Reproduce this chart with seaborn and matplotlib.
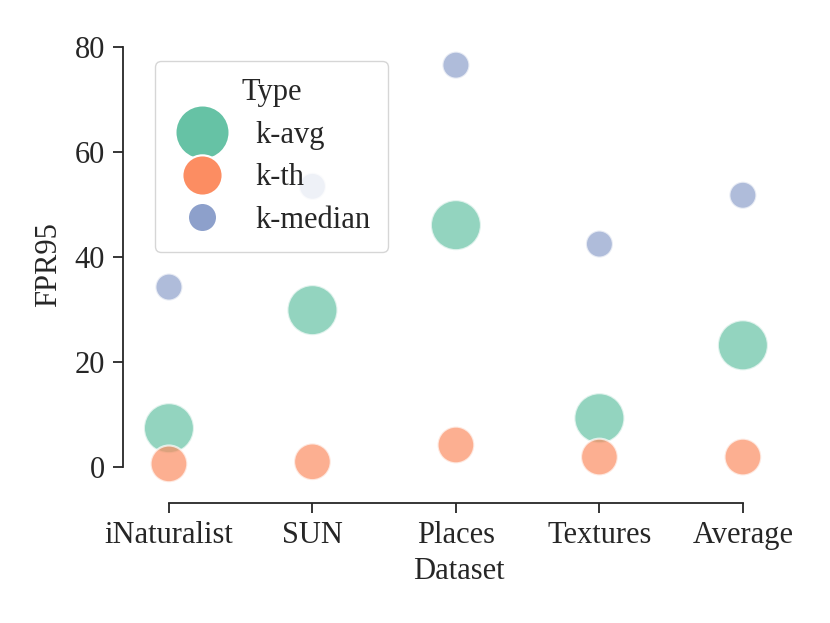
import matplotlib
matplotlib.use("Agg")
import matplotlib.pyplot as plt
import seaborn as sns
import pandas as pd

# FPR95 values
datasets = ["iNaturalist", "SUN", "Places", "Textures", "Average"]
types = ["k-avg", "k-th", "k-median"]
k_avg = [7.4, 29.9, 46.1, 9.3, 23.2]
k_th = [0.6, 1.0, 4.2, 1.9, 1.9]
k_median = [34.3, 53.5, 76.6, 42.5, 51.8]

df = pd.DataFrame({
    "Dataset": datasets * 3,
    "FPR95": k_avg + k_th + k_median,
    "Type": [t for t in types for _ in datasets],
})

sns.set_theme(style="ticks")
plt.rcParams["font.family"] = ["Liberation Serif", "DejaVu Serif"]
plt.rcParams["font.size"] = 22
plt.rcParams["axes.labelsize"] = 22
plt.rcParams["xtick.labelsize"] = 22
plt.rcParams["ytick.labelsize"] = 22
plt.rcParams["legend.fontsize"] = 22
plt.rcParams["legend.title_fontsize"] = 22
plt.rcParams["xtick.major.size"] = 7
plt.rcParams["ytick.major.size"] = 7
plt.rcParams["xtick.major.pad"] = 6
plt.rcParams["ytick.major.pad"] = 6
plt.rcParams["axes.linewidth"] = 1.3
plt.rcParams["xtick.major.width"] = 1.3
plt.rcParams["ytick.major.width"] = 1.3

fig = plt.figure(figsize=(8.3, 6.23), dpi=100)
ax = fig.add_axes([0.165, 0.215, 0.775, 0.72])

sns.scatterplot(data=df, x="Dataset", y="FPR95", hue="Type", size="Type",
                sizes={"k-avg": 1300, "k-th": 700, "k-median": 380},
                palette="Set2", alpha=0.7, ax=ax)

ax.set_xlim(-0.223, 4.26)
ax.set_ylim(-4.2, 81.3)
ax.set_yticks([0, 20, 40, 60, 80])
ax.set_xlabel("Dataset", labelpad=5)
ax.set_ylabel("FPR95", labelpad=8)

leg = ax.legend(title="Type", loc="upper left", bbox_to_anchor=(0.028, 0.954),
                borderaxespad=0, labelspacing=0.45, borderpad=0.55,
                handletextpad=0.75)
marker_sizes = [39, 29, 21]
for h, ms in zip(leg.legend_handles, marker_sizes):
    h.set_alpha(1)
    h.set_markersize(ms)

sns.despine(ax=ax, offset=10, trim=True)
fig.savefig("out.png", dpi=100)
